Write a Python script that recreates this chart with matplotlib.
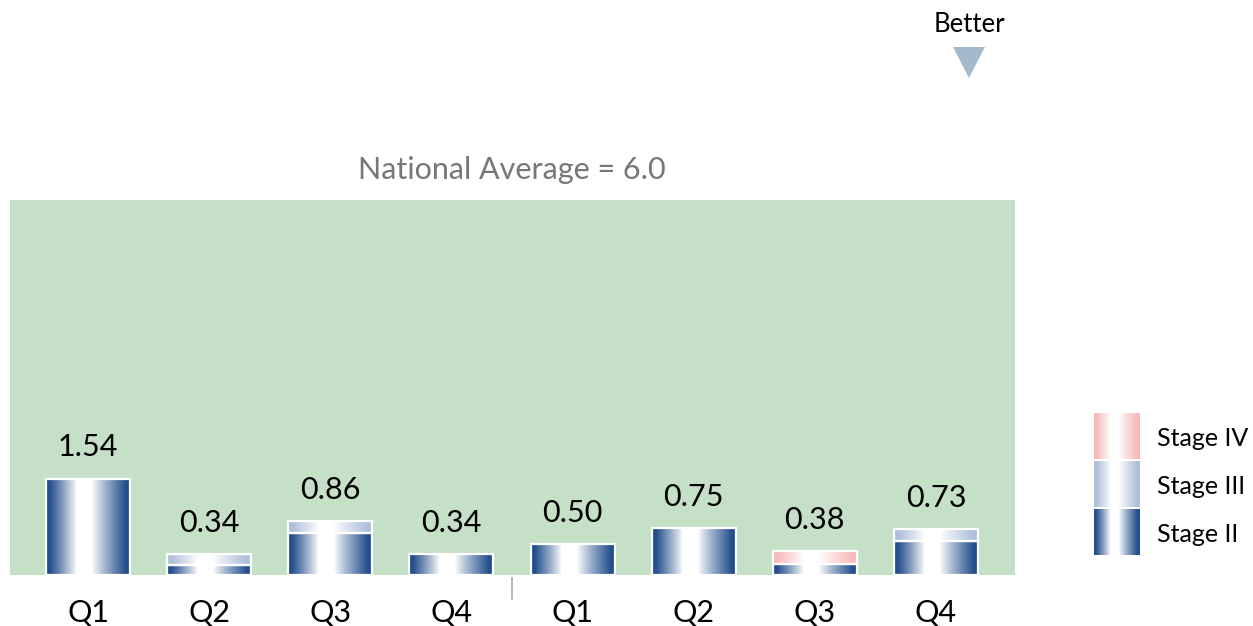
import numpy as np
import matplotlib.pyplot as plt
from matplotlib.colors import to_rgb
from matplotlib.patches import Rectangle, Polygon

plt.rcParams['font.family'] = ['Lato', 'DejaVu Sans']

# Data
quarters = ["Q1", "Q2", "Q3", "Q4", "Q1", "Q2", "Q3", "Q4"]
totals = [1.54, 0.34, 0.86, 0.34, 0.50, 0.75, 0.38, 0.73]
stage_ii = [1.54, 0.16, 0.67, 0.34, 0.50, 0.75, 0.18, 0.54]
stage_iii = [0.00, 0.18, 0.19, 0.00, 0.00, 0.00, 0.00, 0.19]
stage_iv = [0.00, 0.00, 0.00, 0.00, 0.00, 0.00, 0.20, 0.00]
national_avg = 6.0

colors = {"Stage II": "#244f8c", "Stage III": "#aebfd9", "Stage IV": "#f7b9b9"}
green = "#c5e0c6"


def grad_img(edge):
    # horizontal gradient: edge colour -> white plateau -> edge colour
    t = np.linspace(0, 1, 200)
    d = np.abs(t - 0.44)
    d = np.where(t < 0.44, d / 0.44, d / 0.56)
    d = np.clip((d - 0.18) / 0.72, 0, 1) ** 0.9
    e = np.array(to_rgb(edge))
    img = (1 - d)[:, None] * np.ones(3) + d[:, None] * e
    return img[None, :, :]


W, H = 1253, 626
fig = plt.figure(figsize=(W / 100, H / 100), dpi=100)
ax = fig.add_axes([10 / W, (H - 575) / H, 1005 / W, 375 / H])
ax.set_facecolor(green)
x = np.arange(len(quarters))
width = 0.694

for i in x:
    bottom = 0
    for name, vals in [("Stage II", stage_ii), ("Stage III", stage_iii), ("Stage IV", stage_iv)]:
        v = vals[i]
        if v <= 0:
            continue
        ax.imshow(grad_img(colors[name]), extent=(i - width / 2, i + width / 2, bottom, bottom + v),
                  aspect='auto', interpolation='bilinear', zorder=2)
        ax.add_patch(Rectangle((i - width / 2, bottom), width, v, fill=False,
                               edgecolor='white', linewidth=1.6, zorder=3))
        bottom += v
    ax.text(i, totals[i] + 0.5, f"{totals[i]:.2f}", ha='center', va='center',
            fontsize=22, color='black')

ax.set_xlim(-0.645, 7.653)
ax.set_ylim(0, national_avg)
ax.set_xticks(x)
ax.set_xticklabels(quarters, fontsize=22)
ax.tick_params(axis='x', length=0, pad=17)
ax.set_yticks([])
for s in ax.spines.values():
    s.set_visible(False)

ax.plot([3.5, 3.5], [-0.05, -0.38], color='#aaaaaa', lw=1.2, clip_on=False)
ax.text(3.5, national_avg + 0.48, f"National Average = {national_avg:.1f}",
        ha='center', va='center', fontsize=22, color='#777777')

# overlay in pixel coords for legend and "Better" marker
ov = fig.add_axes([0, 0, 1, 1])
ov.axis('off')

legend_items = [("Stage IV", 413), ("Stage III", 461), ("Stage II", 509)]
for name, y0 in legend_items:
    ov.imshow(grad_img(colors[name]), extent=(1094, 1140, y0 + 46, y0),
              aspect='auto', interpolation='bilinear')
    ov.text(1157, y0 + 25, name, ha='left', va='center', fontsize=18, color='black')

ov.text(969, 24, "Better", ha='center', va='center', fontsize=18.5, color='black')
ov.add_patch(Polygon([[953, 47], [985, 47], [969, 78]], closed=True,
                     facecolor='#a3b9cc', edgecolor='none'))
ov.set_xlim(0, W)
ov.set_ylim(H, 0)

fig.savefig("out.png", dpi=100)
